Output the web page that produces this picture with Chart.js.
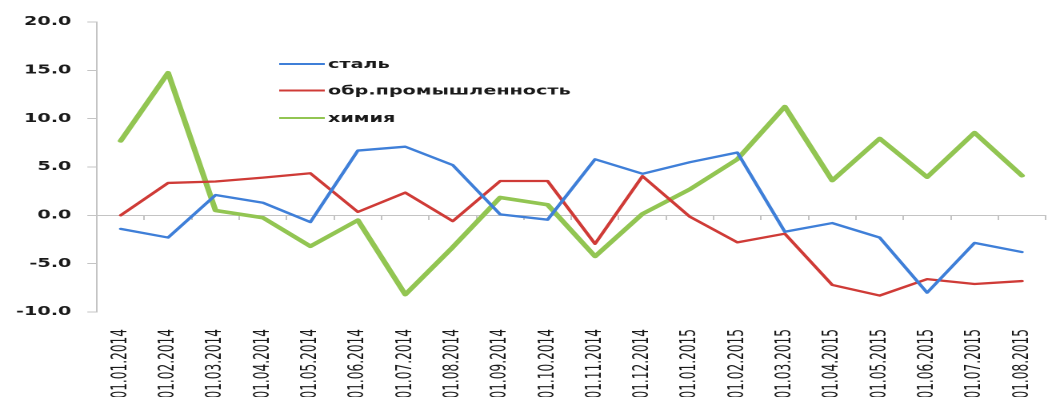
<!DOCTYPE html>
<html>
<head>
<meta charset="utf-8">
<script src="https://cdn.jsdelivr.net/npm/chart.js@4.4.1/dist/chart.umd.min.js"></script>
<style>
  html, body { margin: 0; padding: 0; background: #fff; overflow: hidden; }
  /* the source picture is stretched sideways, so the chart is drawn narrow and scaled */
  #wrap { position: absolute; left: 0; top: 0; width: 664px; height: 397px;
          transform: scaleX(1.6); transform-origin: 0 0; }
</style>
</head>
<body>
<div id="wrap"><canvas id="chart"></canvas></div>
<script>
/* ===================== DATA ===================== */
const months = [
  "01.01.2014", "01.02.2014", "01.03.2014", "01.04.2014", "01.05.2014",
  "01.06.2014", "01.07.2014", "01.08.2014", "01.09.2014", "01.10.2014",
  "01.11.2014", "01.12.2014", "01.01.2015", "01.02.2015", "01.03.2015",
  "01.04.2015", "01.05.2015", "01.06.2015", "01.07.2015", "01.08.2015"
];

const steel = [-1.4, -2.3, 2.1, 1.3, -0.7, 6.7, 7.1, 5.2, 0.1, -0.45,
               5.8, 4.3, 5.5, 6.5, -1.7, -0.8, -2.3, -8.0, -2.85, -3.8];

const manufacturing = [0.0, 3.35, 3.5, 3.9, 4.35, 0.35, 2.35, -0.6, 3.55, 3.55,
                       -2.95, 4.05, -0.15, -2.8, -1.9, -7.2, -8.3, -6.6, -7.1, -6.8];

const chemistry = [7.7, 14.75, 0.5, -0.25, -3.2, -0.5, -8.2, -3.3, 1.85, 1.1,
                   -4.25, 0.15, 2.7, 5.8, 11.25, 3.6, 7.95, 3.95, 8.55, 4.1];

const seriesNames = ["сталь", "обр.промышленность", "химия"];
const yMin = -10, yMax = 20, yStep = 5;

/* ===================== LEGEND (inside plot) ===================== */
const innerLegend = {
  id: "innerLegend",
  afterDraw(chart) {
    const ctx = chart.ctx;
    const rows = [64, 90.5, 118];
    ctx.save();
    ctx.font = "bold 12px 'DejaVu Sans'";
    ctx.textBaseline = "middle";
    chart.data.datasets.forEach((ds, i) => {
      ctx.strokeStyle = ds.borderColor;
      ctx.lineWidth = 2;
      ctx.beginPath();
      ctx.moveTo(174.5, rows[i]);
      ctx.lineTo(203, rows[i]);
      ctx.stroke();
      ctx.fillStyle = "#1a1a1a";
      ctx.fillText(ds.label, 205, rows[i] + 1);
    });
    ctx.restore();
  }
};

/* ===================== CHART ===================== */
new Chart(document.getElementById("chart"), {
  type: "line",
  data: {
    labels: months,
    datasets: [
      { label: seriesNames[0], data: steel, borderColor: "#3f7fd8", borderWidth: 2.3 },
      { label: seriesNames[1], data: manufacturing, borderColor: "#cf3b37", borderWidth: 2.3 },
      { label: seriesNames[2], data: chemistry, borderColor: "#92c552", borderWidth: 3.6 }
    ]
  },
  options: {
    responsive: true,
    maintainAspectRatio: false,
    devicePixelRatio: 2,
    animation: false,
    elements: {
      point: { radius: 0 },
      line: { tension: 0, borderJoinStyle: "round", borderCapStyle: "round" }
    },
    layout: { padding: { top: 22, right: 2, left: 0, bottom: 0 } },
    plugins: {
      legend: { display: false },
      tooltip: { enabled: false }
    },
    scales: {
      x: {
        type: "category",
        offset: true,
        grid: { display: false },
        border: { display: false },
        ticks: {
          autoSkip: false,
          minRotation: 90,
          maxRotation: 90,
          padding: 9,
          color: "#1a1a1a",
          font: { family: "'DejaVu Sans Condensed', 'DejaVu Sans'", size: 13.5 }
        },
        afterFit(scale) { scale.height = 85; }
      },
      // axis line through zero with tick marks
      x2: {
        type: "category",
        position: { y: 0 },
        offset: true,
        grid: { drawOnChartArea: false, tickLength: 4, color: "#c4c4c4", offset: true },
        border: { display: true, color: "#c4c4c4", width: 1 },
        ticks: { display: false }
      },
      y: {
        min: yMin,
        max: yMax,
        grid: { drawOnChartArea: false, tickLength: 6, color: "#c4c4c4" },
        border: { display: true, color: "#c4c4c4", width: 1 },
        ticks: {
          stepSize: yStep,
          padding: 10,
          color: "#1a1a1a",
          font: { family: "'DejaVu Sans'", size: 12, weight: "bold" },
          callback: function (value) {
            return value.toFixed(1);
          }
        },
        afterFit(scale) { scale.width = 60.6; }
      }
    }
  },
  plugins: [innerLegend]
});
</script>
</body>
</html>
